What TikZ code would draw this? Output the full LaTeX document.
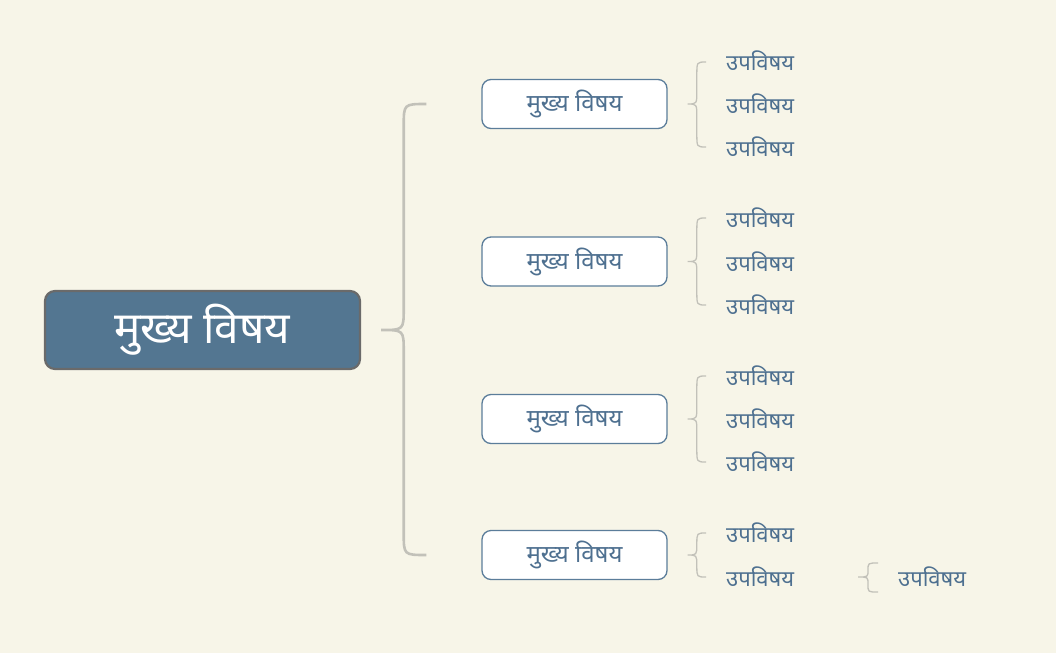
\documentclass[tikz,border=0pt]{standalone}
\usepackage{fontspec}
\newfontfamily\devfont[Script=Devanagari]{Noto Sans}
\usepackage{xcolor}
\usetikzlibrary{positioning,calc}

\definecolor{paper}{HTML}{F7F5E8}
\definecolor{rootblue}{HTML}{537691}
\definecolor{rootedge}{HTML}{6A6A6A}
\definecolor{topicedge}{HTML}{5B7D9A}
\definecolor{inkblue}{HTML}{4E7090}
\definecolor{bracegray}{HTML}{C2C1B9}

% curly brace: style, tip, top end, bottom end, radius
\newcommand{\curlybrace}[5]{%
  \draw[#1] let \p1=#2, \p2=#3, \p3=#4, \n1={(\x1+\x2)/2} in
    (\x2,\y2) .. controls (\n1,\y2) .. (\n1,\y2-#5)
    -- (\n1,\y1+#5) .. controls (\n1,\y1) .. (\x1,\y1)
    .. controls (\n1,\y1) .. (\n1,\y1-#5)
    -- (\n1,\y3+#5) .. controls (\n1,\y3) .. (\x3,\y3);}

\begin{document}
\begin{tikzpicture}[x=1pt, y=-1pt, font=\devfont]
    \tikzstyle{rootbox} = [draw=rootedge, line width=2.2pt, fill=rootblue, text=white, rounded corners=10pt, minimum width=315pt, minimum height=78pt, font=\devfont\fontsize{44}{50}\selectfont]
    \tikzstyle{topicbox} = [draw=topicedge, line width=1.3pt, fill=white, text=inkblue, rounded corners=9pt, minimum width=185pt, minimum height=49pt, font=\devfont\fontsize{24}{28}\selectfont]
    \tikzstyle{subtext} = [anchor=west, inner sep=0pt, text=inkblue, font=\devfont\fontsize{22}{26}\selectfont]
    \tikzstyle{bigbrace} = [draw=bracegray, line width=2.6pt]
    \tikzstyle{smallbrace} = [draw=bracegray, line width=1.3pt]

    \fill[paper] (0,0) rectangle (1056,653);
    \useasboundingbox (0,0) rectangle (1056,653);

    \node [rootbox] (root) at (202.5,330) {मुख्य विषय};

    \node [topicbox] (t1) at (574.5,104) {मुख्य विषय};
    \node [topicbox] (t2) at (574.5,261.5) {मुख्य विषय};
    \node [topicbox] (t3) at (574.5,419) {मुख्य विषय};
    \node [topicbox] (t4) at (574.5,555) {मुख्य विषय};

    \node [subtext] (s11) at (726,61) {उपविषय};
    \node [subtext] (s12) at (726,104) {उपविषय};
    \node [subtext] (s13) at (726,147) {उपविषय};
    \node [subtext] (s21) at (726,218) {उपविषय};
    \node [subtext] (s22) at (726,261.5) {उपविषय};
    \node [subtext] (s23) at (726,305) {उपविषय};
    \node [subtext] (s31) at (726,376) {उपविषय};
    \node [subtext] (s32) at (726,419) {उपविषय};
    \node [subtext] (s33) at (726,462) {उपविषय};
    \node [subtext] (s41) at (726,533) {उपविषय};
    \node [subtext] (s42) at (726,577) {उपविषय};
    \node [subtext] (s5) at (898,577) {उपविषय};

    % root to topics
    \curlybrace{bigbrace}{($(root.east)+(20,0)$)}{($(t1.west)+(-55,0)$)}{($(t4.west)+(-55,0)$)}{22pt}

    % topics to subtopics
    \curlybrace{smallbrace}{($(t1.east)+(20,0)$)}{($(s11.west)+(-20,1)$)}{($(s13.west)+(-20,0)$)}{13pt}
    \curlybrace{smallbrace}{($(t2.east)+(20,0)$)}{($(s21.west)+(-20,0)$)}{($(s23.west)+(-20,0)$)}{13pt}
    \curlybrace{smallbrace}{($(t3.east)+(20,0)$)}{($(s31.west)+(-20,0)$)}{($(s33.west)+(-20,0)$)}{13pt}
    \curlybrace{smallbrace}{($(t4.east)+(20,0)$)}{($(s41.west)+(-20,0)$)}{($(s42.west)+(-20,0)$)}{11pt}

    % last subtopic
    \curlybrace{smallbrace}{($(s5.west)+(-40,0)$)}{($(s5.west)+(-20,-14)$)}{($(s5.west)+(-20,15)$)}{7pt}
\end{tikzpicture}
\end{document}
